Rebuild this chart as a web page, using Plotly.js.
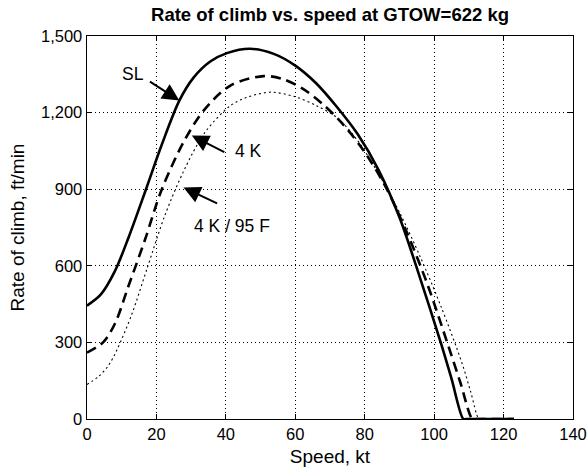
<!DOCTYPE html>
<html>
<head>
<meta charset="utf-8">
<script src="https://cdn.plot.ly/plotly-3.0.1.min.js"></script>
<style>
html,body{margin:0;padding:0;background:#fff;}
#chart{width:587px;height:468px;}
</style>
</head>
<body>
<div id="chart"></div>
<script>
// Series: SL (sea level)
const slSpeed = [0, 4, 8, 12, 17, 21.5, 26.6, 30.7, 35.5, 40.3, 47, 53.8, 60, 66, 72, 78, 84, 90, 96, 102, 105, 108.4, 109.2, 123];
const slRoc   = [444, 488, 578, 712, 900, 1073, 1247, 1337, 1400, 1433, 1450, 1430, 1384, 1315, 1222, 1115, 975, 790, 550, 295, 158, 0, 0, 0];

// Series: 4 K
const k4Speed = [0, 4.7, 8.1, 11.9, 16.7, 21.5, 27.8, 33.6, 41.3, 50.9, 56.2, 62, 68, 74, 80, 86, 92, 98, 104, 107.5, 111, 111.8, 123];
const k4Roc   = [260, 301, 375, 519, 702, 898, 1084, 1208, 1306, 1343, 1332, 1295, 1232, 1150, 1045, 910, 735, 530, 290, 145, 0, 0, 0];

// Series: 4 K / 95 F
const k4hSpeed = [0, 3.3, 6.1, 8.6, 12.9, 17.2, 22.5, 28, 34, 41.3, 46.1, 53, 60, 66, 72, 78, 84, 90, 96, 102, 108, 110.5, 112.9, 113.7, 123];
const k4hRoc   = [135, 166, 208, 270, 410, 585, 800, 975, 1123, 1227, 1260, 1280, 1262, 1228, 1180, 1090, 960, 810, 635, 440, 220, 108, 0, 0, 0];

const xTicks = [0, 20, 40, 60, 80, 100, 120, 140];
const yTicks = [0, 300, 600, 900, 1200, 1500];
const yTickText = ['0', '300', '600', '900', '1,200', '1,500'];

const FONT = 'Liberation Sans, Arial, Helvetica, sans-serif';

const traces = [
  {x: slSpeed, y: slRoc, type: 'scatter', mode: 'lines', name: 'SL',
   line: {color: '#000', width: 2.6, shape: 'spline', smoothing: 0.9}},
  {x: k4Speed, y: k4Roc, type: 'scatter', mode: 'lines', name: '4 K',
   line: {color: '#000', width: 2.6, dash: '10px,6px', shape: 'spline', smoothing: 0.9}},
  {x: k4hSpeed, y: k4hRoc, type: 'scatter', mode: 'lines', name: '4 K / 95 F',
   line: {color: '#000', width: 1.1, dash: '2px,3px', shape: 'spline', smoothing: 0.9}}
];

function arrow(x, y, ax, ay) {
  return {x: x, y: y, ax: ax, ay: ay, xref: 'x', yref: 'y', axref: 'x', ayref: 'y',
          text: '', showarrow: true, arrowhead: 2, arrowsize: 1.7, arrowwidth: 2,
          arrowcolor: '#000', standoff: 0, startstandoff: 0};
}
function label(x, y, t) {
  return {x: x, y: y, xref: 'x', yref: 'y', text: t, showarrow: false,
          font: {family: FONT, size: 17.5, color: '#000'}, xanchor: 'center', yanchor: 'middle'};
}

const layout = {
  width: 587, height: 468,
  margin: {l: 87, r: 14, t: 36, b: 49, pad: 0},
  paper_bgcolor: '#fff', plot_bgcolor: '#fff',
  showlegend: false,
  font: {family: FONT, color: '#000'},
  title: {text: '<b>Rate of climb vs. speed at GTOW=622 kg</b>',
          font: {family: FONT, size: 18.5, color: '#000'},
          x: 0.5, xref: 'paper', xanchor: 'center', y: 1 - 15/468, yref: 'container', yanchor: 'middle'},
  xaxis: {range: [0, 140], tickvals: xTicks, ticktext: xTicks.map(String),
          ticks: 'inside', ticklen: 5, tickwidth: 1, tickcolor: '#000',
          showline: true, linecolor: '#000', linewidth: 1.4, mirror: 'ticks',
          showgrid: true, gridcolor: '#000', gridwidth: 1, griddash: '1px,3px',
          zeroline: false, tickfont: {family: FONT, size: 16.5, color: '#000'},
          title: {text: 'Speed, kt', font: {family: FONT, size: 19, color: '#000'}, standoff: 7}},
  yaxis: {range: [0, 1500], tickvals: yTicks, ticktext: yTickText,
          ticks: 'inside', ticklen: 5, tickwidth: 1, tickcolor: '#000',
          showline: true, linecolor: '#000', linewidth: 1.4, mirror: 'ticks',
          showgrid: true, gridcolor: '#000', gridwidth: 1, griddash: '1px,3px',
          zeroline: false, tickfont: {family: FONT, size: 16.5, color: '#000'},
          title: {text: 'Rate of climb, ft/min', font: {family: FONT, size: 19, color: '#000'}, standoff: 11}},
  annotations: [
    label(13.3, 1353, 'SL'),
    arrow(26.6, 1247, 17.7, 1325),
    label(46.5, 1048, '4 K'),
    arrow(30.2, 1110, 40.0, 1042),
    label(41.7, 754, '4 K / 95 F'),
    arrow(27.8, 907, 37.9, 842)
  ]
};

Plotly.newPlot('chart', traces, layout, {displayModeBar: false, staticPlot: true});
</script>
</body>
</html>
